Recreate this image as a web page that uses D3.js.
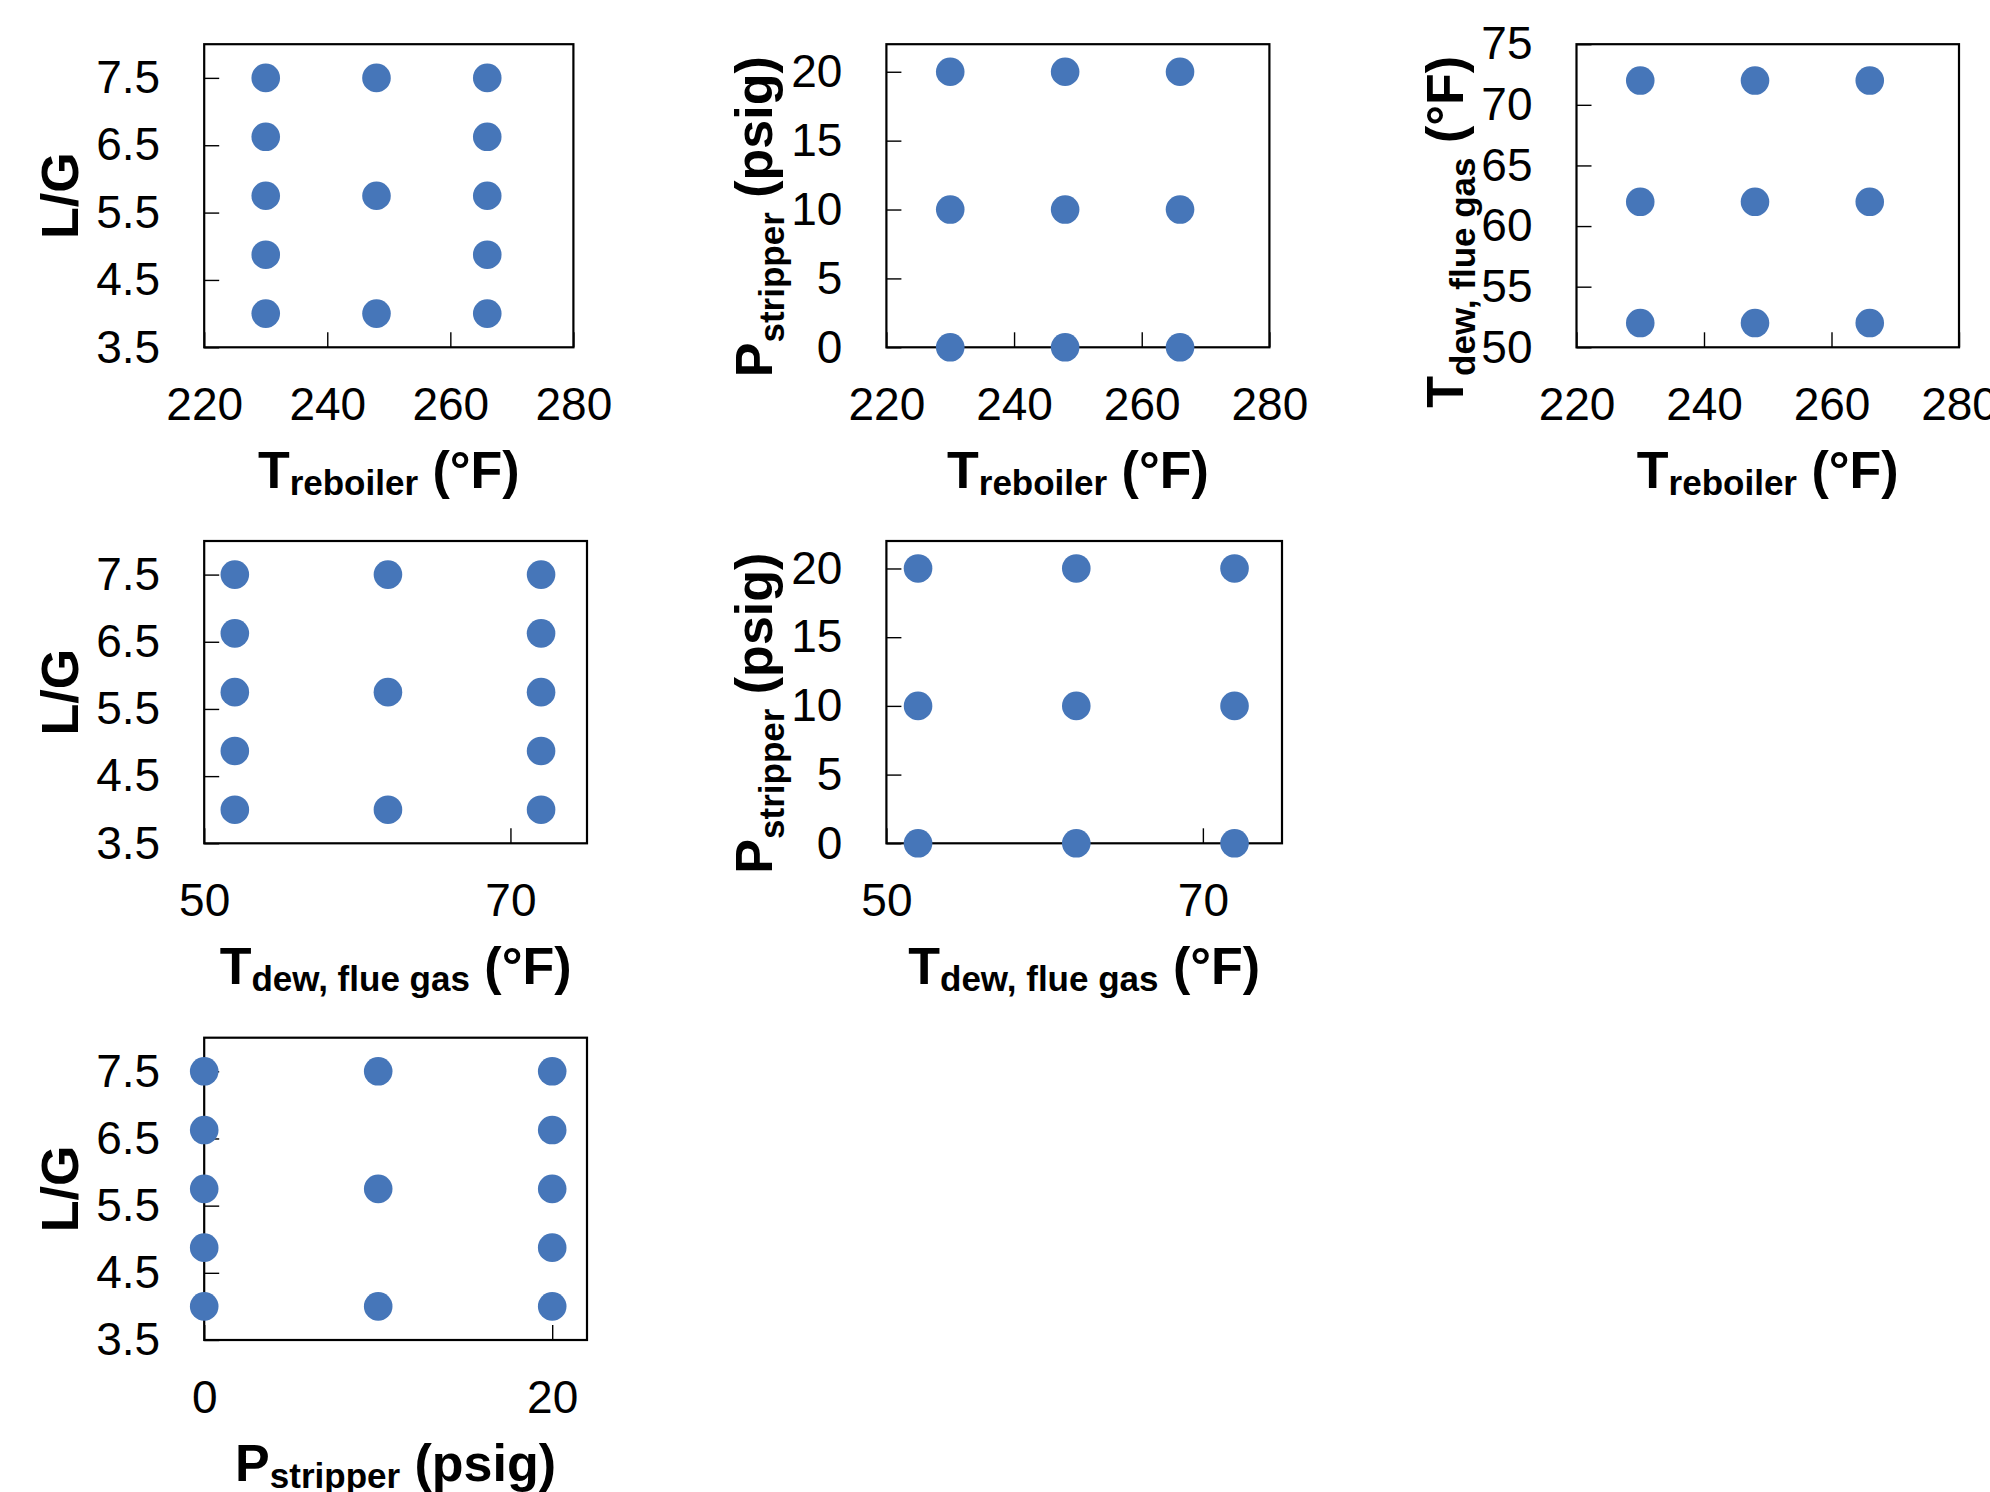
<!DOCTYPE html>
<html>
<head>
<meta charset="utf-8">
<script src="https://cdn.jsdelivr.net/npm/d3@7"></script>
<style>
  body { margin: 0; background: #fff; }
  svg { display: block; font-family: "Liberation Sans", Arial, sans-serif; }
</style>
</head>
<body>
<script>
// Data: design points, one list per projection [x, y]
const trebLG = [[230, 4.0], [230, 4.875], [230, 5.75], [230, 6.625], [230, 7.5],
  [248, 4.0], [248, 5.75], [248, 7.5],
  [266, 4.0], [266, 4.875], [266, 5.75], [266, 6.625], [266, 7.5]];
const trebP = [[230, 0], [230, 10], [230, 20], [248, 0], [248, 10], [248, 20], [266, 0], [266, 10], [266, 20]];
const trebTdew = [[230, 52], [230, 62], [230, 72], [248, 52], [248, 62], [248, 72], [266, 52], [266, 62], [266, 72]];
const tdewLG = [[52, 4.0], [52, 4.875], [52, 5.75], [52, 6.625], [52, 7.5],
  [62, 4.0], [62, 5.75], [62, 7.5],
  [72, 4.0], [72, 4.875], [72, 5.75], [72, 6.625], [72, 7.5]];
const tdewP = [[52, 0], [52, 10], [52, 20], [62, 0], [62, 10], [62, 20], [72, 0], [72, 10], [72, 20]];
const pLG = [[0, 4.0], [0, 4.875], [0, 5.75], [0, 6.625], [0, 7.5],
  [10, 4.0], [10, 5.75], [10, 7.5],
  [20, 4.0], [20, 4.875], [20, 5.75], [20, 6.625], [20, 7.5]];

// Ticks
const lgTicks = [3.5, 4.5, 5.5, 6.5, 7.5];
const pTicks = [0, 5, 10, 15, 20];
const tdewTicks = [50, 55, 60, 65, 70, 75];
const trebTicks = [220, 240, 260, 280];
const tdewXTicks = [50, 70];
const pXTicks = [0, 20];

// Axis titles: [text, "main" | "sub"]
const titles = {
  lg: [["L/G", "main"]],
  treb: [["T", "main"], ["reboiler", "sub"], [" (°F)", "main"]],
  p: [["P", "main"], ["stripper", "sub"], [" (psig)", "main"]],
  tdew: [["T", "main"], ["dew, flue gas", "sub"], [" (°F)", "main"]],
};

const W = 1990, H = 1492,
  dotColor = "#4676b9",
  tickFont = 46, mainFont = 52, subFont = 35;

const panels = [
  {px: [204.2, 573.4], py: [44.2, 347.3], xd: [220, 280], xt: trebTicks, yd: [3.5, 8], yt: lgTicks,
    pts: trebLG, xl: "treb", yl: "lg", ylx: 78, yly: 0, fmt: ".1f"},
  {px: [886.4, 1269.4], py: [44.2, 347.3], xd: [220, 280], xt: trebTicks, yd: [0, 22], yt: pTicks,
    pts: trebP, xl: "treb", yl: "p", ylx: 772, yly: 21, fmt: "d"},
  {px: [1576.5, 1959], py: [44.2, 347.3], xd: [220, 280], xt: trebTicks, yd: [50, 75], yt: tdewTicks,
    pts: trebTdew, xl: "treb", yl: "tdew", ylx: 1463, yly: 36, fmt: "d"},
  {px: [204.2, 587], py: [541, 843.3], xd: [50, 75], xt: tdewXTicks, yd: [3.5, 8], yt: lgTicks,
    pts: tdewLG, xl: "tdew", yl: "lg", ylx: 78, yly: 0, fmt: ".1f"},
  {px: [886.4, 1282], py: [541, 843.3], xd: [50, 75], xt: tdewXTicks, yd: [0, 22], yt: pTicks,
    pts: tdewP, xl: "tdew", yl: "p", ylx: 772, yly: 21, fmt: "d"},
  {px: [204.2, 587], py: [1037.7, 1340], xd: [0, 22], xt: pXTicks, yd: [3.5, 8], yt: lgTicks,
    pts: pLG, xl: "p", yl: "lg", ylx: 78, yly: 0, fmt: ".1f"},
];

const svg = d3.select("body").append("svg")
  .attr("width", W)
  .attr("height", H);

// rich text title, subscript lowered by `shift`
const addTitle = (sel, parts, shift) => {
  const t = sel.append("text")
    .attr("text-anchor", "middle")
    .attr("font-weight", "bold")
    .attr("fill", "#000")
    .style("white-space", "pre");
  let shifted = 0;
  parts.forEach(([s, kind]) => {
    const dy = kind === "sub" ? shift - shifted : -shifted;
    shifted += dy;
    t.append("tspan")
      .attr("font-size", kind === "sub" ? subFont : mainFont)
      .attr("dy", dy)
      .text(s);
  });
  return t;
};

panels.forEach(p => {
  const x = d3.scaleLinear().domain(p.xd).range(p.px),
    y = d3.scaleLinear().domain(p.yd).range([p.py[1], p.py[0]]),
    g = svg.append("g");

  // box
  g.append("rect")
    .attr("x", p.px[0])
    .attr("y", p.py[0])
    .attr("width", p.px[1] - p.px[0])
    .attr("height", p.py[1] - p.py[0])
    .attr("fill", "none")
    .attr("stroke", "#000")
    .attr("stroke-width", 2.2);

  // axes, ticks pointing inward
  const ya = g.append("g")
    .attr("transform", `translate(${p.px[0]},0)`)
    .call(d3.axisLeft(y).tickValues(p.yt).tickFormat(d3.format(p.fmt)).tickSize(-15).tickPadding(44));
  const xa = g.append("g")
    .attr("transform", `translate(0,${p.py[1]})`)
    .call(d3.axisBottom(x).tickValues(p.xt).tickFormat(d3.format("d")).tickSize(-15).tickPadding(40));
  [ya, xa].forEach(a => {
    a.select(".domain").remove();
    a.selectAll("line").attr("stroke", "#000").attr("stroke-width", 1.4);
    a.selectAll("text")
      .attr("font-size", tickFont)
      .attr("font-family", "'Liberation Sans', Arial, sans-serif")
      .attr("fill", "#000");
  });

  // axis titles
  addTitle(g, titles[p.xl], 6.5)
    .attr("x", (p.px[0] + p.px[1]) / 2)
    .attr("y", p.py[1] + 141);
  addTitle(g, titles[p.yl], 12)
    .attr("transform", `translate(${p.ylx},${(p.py[0] + p.py[1]) / 2 + p.yly}) rotate(-90)`);

  // points
  g.append("g").selectAll("circle")
    .data(p.pts)
    .join("circle")
    .attr("cx", d => x(d[0]))
    .attr("cy", d => y(d[1]))
    .attr("r", 14.3)
    .attr("fill", dotColor);
});
</script>
</body>
</html>
